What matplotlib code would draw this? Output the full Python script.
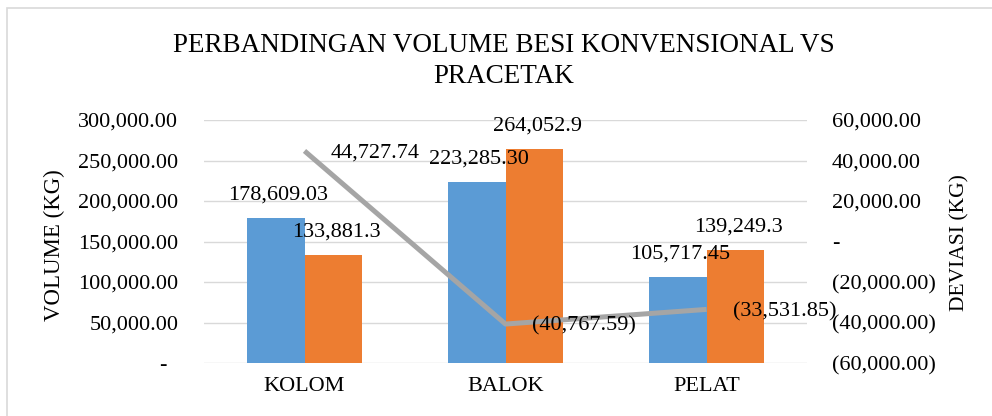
import matplotlib
matplotlib.use("Agg")
import matplotlib.pyplot as plt
import matplotlib.patches as patches
import numpy as np

# ---- data ----
categories = ["KOLOM", "BALOK", "PELAT"]
konvensional = [178609.03, 223285.30, 105717.45]
pracetak = [133881.3, 264052.9, 139249.3]
deviasi = [44727.74, -40767.59, -33531.85]
left_ticks = [0, 50000, 100000, 150000, 200000, 250000, 300000]
right_ticks = [-60000, -40000, -20000, 0, 20000, 40000, 60000]

title_lines = ["PERBANDINGAN VOLUME BESI KONVENSIONAL VS", "PRACETAK"]
ylabel_left = "VOLUME (KG)"
ylabel_right = "DEVIASI (KG)"

BLUE = "#5B9BD5"
ORANGE = "#ED7D31"
GRAY = "#A5A5A5"
GRID = "#D9D9D9"

plt.rcParams["font.family"] = ["Liberation Serif", "DejaVu Serif"]

W, H = 992, 416
fig = plt.figure(figsize=(W / 100, H / 100), dpi=100)

def fx(px):
    return px / W

def fy(py):
    return 1 - py / H

ax_l, ax_r, ax_t, ax_b = 204, 807, 120, 363
ax = fig.add_axes([fx(ax_l), fy(ax_b), (ax_r - ax_l) / W, (ax_b - ax_t) / H])

x = np.arange(len(categories))
bw = 0.287
ax.bar(x - bw / 2, konvensional, bw, color=BLUE, zorder=2)
ax.bar(x + bw / 2, pracetak, bw, color=ORANGE, zorder=2)

ax.set_xlim(-0.5, len(categories) - 0.5)
ax.set_ylim(0, 300000)
ax.set_yticks(left_ticks)
ax.set_yticklabels([("-  " if v == 0 else f"{v:,.2f}") for v in left_ticks])
ax.set_xticks(x)
ax.set_xticklabels(categories)
ax.tick_params(axis="y", length=0, pad=18.5, labelsize=16)
ax.tick_params(axis="x", length=0, pad=10, labelsize=16)
ax.grid(axis="y", color=GRID, linewidth=1.0, zorder=0)
ax.set_axisbelow(True)
for s in ax.spines.values():
    s.set_visible(False)

# bar labels
for xi, v in zip(x, konvensional):
    ax.annotate(f"{v:,.2f}", (xi - bw / 2, v), xytext=(2, 16.5), textcoords="offset points",
                ha="center", va="center", fontsize=16, zorder=5)
for xi, v in zip(x, pracetak):
    ax.annotate(f"{v:,.1f}", (xi + bw / 2, v), xytext=(2, 16.5), textcoords="offset points",
                ha="center", va="center", fontsize=16, zorder=5)

ax2 = ax.twinx()
ax2.set_ylim(-60000, 60000)
ax2.set_yticks(right_ticks)
ax2.set_yticklabels([("-" if v == 0 else (f"({abs(v):,.2f})" if v < 0 else f"{v:,.2f}")) for v in right_ticks])
ax2.tick_params(axis="y", length=0, pad=18, labelsize=16)
for s in ax2.spines.values():
    s.set_visible(False)
ax2.plot(x, deviasi, color=GRAY, linewidth=3.6, solid_capstyle="butt", solid_joinstyle="round", zorder=3)
for xi, v in zip(x, deviasi):
    lab = f"({abs(v):,.2f})" if v < 0 else f"{v:,.2f}"
    ax2.annotate(lab, (xi, v), xytext=(19, -1.5), textcoords="offset points",
                 ha="left", va="center", fontsize=16, zorder=6)

# titles
fig.text(fx(504), fy(52), title_lines[0], ha="center", va="baseline", fontsize=19.5)
fig.text(fx(504), fy(83), title_lines[1], ha="center", va="baseline", fontsize=19.5)
fig.text(fx(54), fy(245), ylabel_left, rotation=90, ha="center", va="center", fontsize=16.5)
fig.text(fx(960), fy(243), ylabel_right, rotation=90, ha="center", va="center", fontsize=15.5)

# chart border
rect = patches.Rectangle((fx(7), -0.2), 1.2, fy(8) + 0.2, transform=fig.transFigure,
                         fill=False, edgecolor=GRID, linewidth=1.2, clip_on=False)
fig.patches.append(rect)

fig.savefig("out.png", dpi=100)
